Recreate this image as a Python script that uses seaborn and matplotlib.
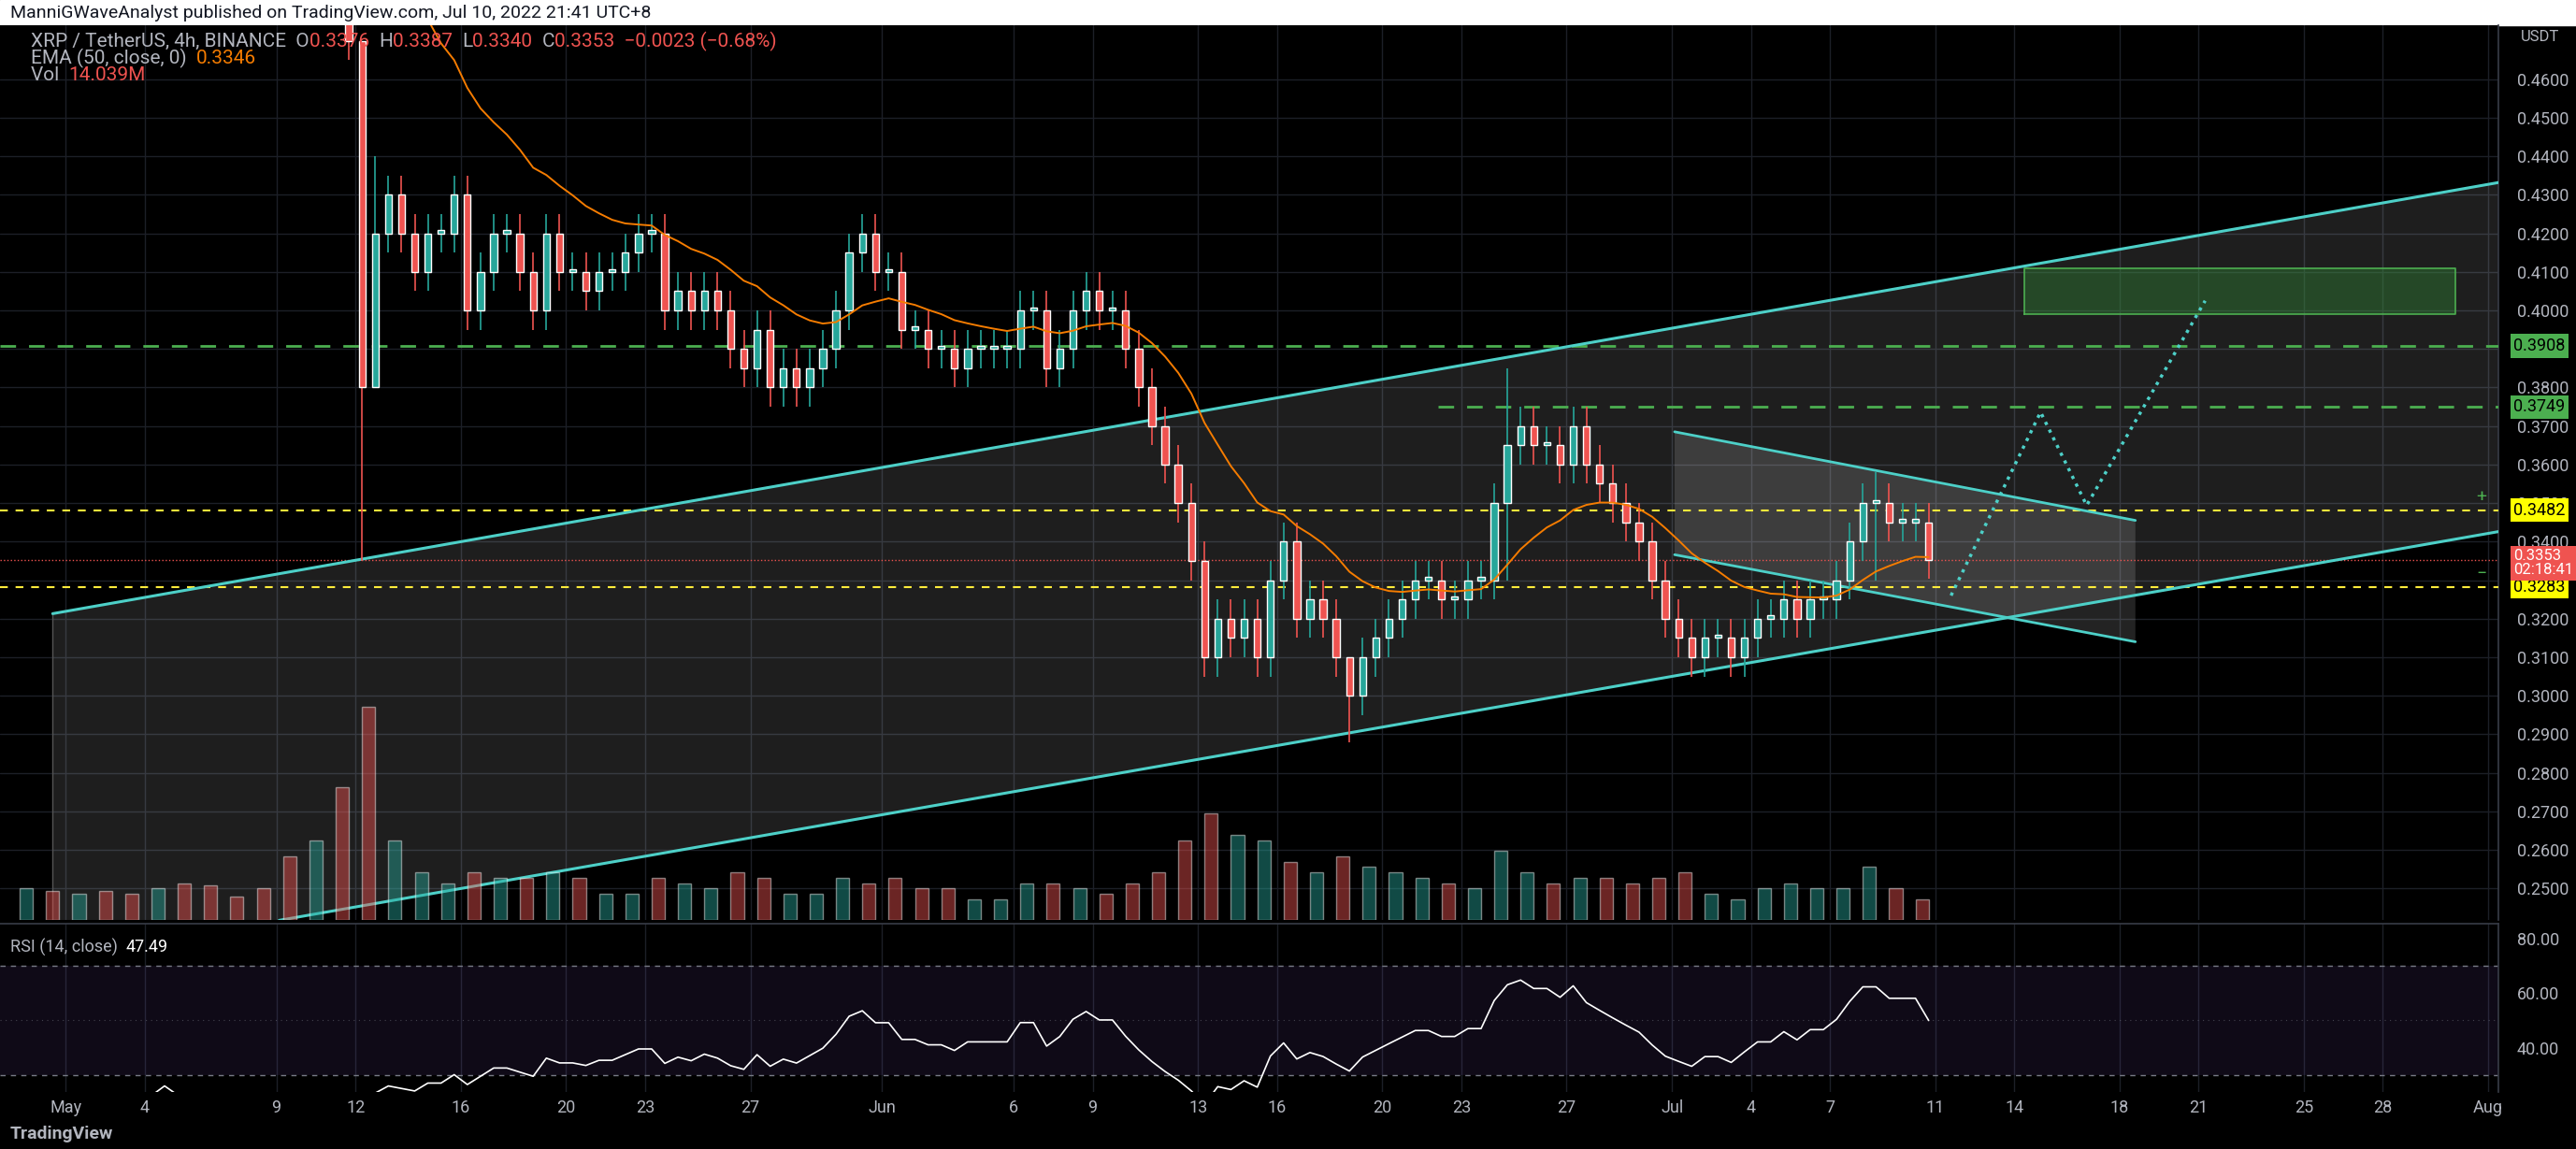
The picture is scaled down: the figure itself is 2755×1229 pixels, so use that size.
import numpy as np
import pandas as pd
import matplotlib
matplotlib.use("Agg")
import matplotlib.pyplot as plt
import seaborn as sns

# 12h closes from Apr 29 to Jul 10
closes = [
    .62, .60, .59, .58,
    .60, .61, .61, .60, .60, .59, .62, .63, .60, .58, .58, .57, .57, .56, .55, .54,
    .52, .50, .52, .50, .48, .47, .38, .42, .43, .42, .41, .42, .42, .43, .40, .41,
    .42, .42, .41, .40, .42, .41, .41, .405, .41, .41, .415, .42, .42, .40, .405, .40,
    .405, .40, .39, .385, .395, .38, .385, .38, .385, .39, .40, .415, .42, .41,
    .41, .395, .395, .39, .39, .385, .39, .39, .39, .39, .40, .40, .385, .39, .40, .405,
    .40, .40, .39, .38, .37, .36, .35, .335, .31, .32, .315, .32, .31, .33, .34, .32,
    .325, .32, .31, .30, .31, .315, .32, .325, .33, .33, .325, .325, .33, .33, .35, .365,
    .37, .365, .365, .36, .37, .36, .355, .35, .345, .34, .33, .32,
    .315, .31, .315, .315, .31, .315, .32, .32, .325, .32, .325, .325, .33, .34,
    .35, .35, .345, .345, .345, .3353,
]
# extreme wicks: (candle index, high, low)
wick_idx = [26, 27, 101, 113, 141]
wick_hi = [.47, .44, .31, .385, .358]
wick_lo = [.335, .40, .288, .33, .33]

# daily volume (M), Apr 29 .. Jul 10
volume = [60, 55, 50, 55, 50, 60, 70, 65, 45, 60, 120, 150, 250, 400, 150, 90, 70, 90, 80, 80,
          90, 80, 50, 50, 80, 70, 60, 90, 80, 50, 50, 80, 70, 80, 60, 60, 40, 40, 70, 70,
          60, 50, 70, 90, 150, 200, 160, 150, 110, 90, 120, 100, 90, 80, 70, 60, 130, 90, 70, 80,
          80, 70, 80, 90, 50, 40, 60, 70, 60, 60, 100, 60, 40]

tick_days = [0, 3, 8, 11, 15, 19, 22, 26, 31, 36, 39, 43, 46, 50, 53, 57, 61, 64, 67, 71, 74, 78, 81, 85, 88, 92]
tick_labels = ["May", "4", "9", "12", "16", "20", "23", "27", "Jun", "6", "9", "13", "16", "20", "23", "27",
               "Jul", "4", "7", "11", "14", "18", "21", "25", "28", "Aug"]

UP, DN = "#26a69a", "#ef5350"
GRID = "#1c1f27"
TXT = "#b2b5be"
CY = "#4dd0c8"

sns.set_theme(style="dark", rc={"axes.facecolor": "black", "figure.facecolor": "black",
                                "font.family": "Roboto"})
W, H = 2755, 1229
fig = plt.figure(figsize=(W / 100, H / 100), dpi=100)
fig.patch.set_facecolor("black")
ax = fig.add_axes([0, 0.199, 0.970, 0.779])
rax = fig.add_axes([0, 0.050, 0.970, 0.146], sharex=ax)
vax = ax.twinx()

n = len(closes)
c = np.array(closes)
o = np.r_[c[0], c[:-1]]
hi = np.maximum(o, c) + 0.005
lo = np.minimum(o, c) - 0.005
for i, h_, l_ in zip(wick_idx, wick_hi, wick_lo):
    hi[i], lo[i] = h_, l_
x = -2 + np.arange(n) * 0.5 + 0.25
df = pd.DataFrame({"x": x, "o": o, "c": c, "hi": hi, "lo": lo})
df["col"] = np.where(df.c >= df.o, UP, DN)

# gridlines
for t in tick_days:
    ax.axvline(t, color=GRID, lw=1, zorder=0)
    rax.axvline(t, color=GRID, lw=1, zorder=0)
for p in np.arange(0.25, 0.465, 0.01):
    ax.axhline(p, color=GRID, lw=1, zorder=0)

# volume
vdf = pd.DataFrame({"d": np.arange(len(volume)) - 2 + 0.5, "v": volume})
vcol = [UP if i == 0 or c[2 * i + 1] >= c[2 * i - 1] else DN for i in range(len(volume))]
vax.bar(vdf.d, vdf.v, width=0.5, color=vcol, alpha=0.45, zorder=1)
vax.set_ylim(0, max(volume) * 4.2)
vax.axis("off")

# channel
cx = [-0.5, 92.4, 92.4, 8.1, -0.5]
cy = [0.3213, 0.4332, 0.3426, 0.2417, 0.2417]
ax.fill(cx, cy, color="white", alpha=0.12, lw=0, zorder=1)
ax.plot([-0.5, 92.4], [0.3213, 0.4332], color=CY, lw=2.2, zorder=4)
ax.plot([8.1, 92.4], [0.2417, 0.3426], color=CY, lw=2.2, zorder=4)
ax.plot([-0.5, -0.5], [0.2417, 0.3213], color="#555", lw=1, zorder=1)

# wedge
wx = [61.1, 78.6, 78.6, 61.1]
wy = [0.3685, 0.3455, 0.3140, 0.3366]
ax.fill(wx, wy, color="white", alpha=0.14, lw=0, zorder=1)
ax.plot([61.1, 78.6], [0.3685, 0.3455], color=CY, lw=2, zorder=4)
ax.plot([61.1, 78.6], [0.3366, 0.3140], color=CY, lw=2, zorder=4)

# target box
ax.fill([74.4, 90.75, 90.75, 74.4], [0.3990, 0.3990, 0.4110, 0.4110], color="#2e7d32", alpha=0.45, lw=0, zorder=2)
ax.plot([74.4, 90.75, 90.75, 74.4, 74.4], [0.3990, 0.3990, 0.4110, 0.4110, 0.3990], color="#4caf50", lw=1.2, zorder=2)

# levels
ax.axhline(0.3908, color="#4caf50", ls=(0, (6, 5)), lw=2, zorder=3)
ax.plot([52.1, 92.4], [0.3749, 0.3749], color="#4caf50", ls=(0, (6, 5)), lw=2, zorder=3)
ax.axhline(0.3482, color="#ffeb3b", ls=(0, (4, 4)), lw=1.5, zorder=3)
ax.axhline(0.3283, color="#ffeb3b", ls=(0, (4, 4)), lw=1.5, zorder=3)
ax.axhline(0.3353, color=DN, ls=":", lw=1, zorder=3)

# projection path
ax.plot([71.6, 75, 76.75, 81.25], [0.3260, 0.3736, 0.3494, 0.4025], color=CY, ls=":", lw=2.5, zorder=5)

# candles
ax.vlines(df.x, df.lo, df.hi, colors=df.col, lw=1.2, zorder=6)
ax.bar(df.x, (df.c - df.o).abs().clip(lower=0.0008), bottom=np.minimum(df.o, df.c), width=0.26,
       color=df.col, zorder=7)

# EMA 50 (4h) ~ span 17 on 12h bars
ema = pd.Series(closes).ewm(span=17, adjust=False).mean()
ax.plot(x, ema, color="#f57c00", lw=1.4, zorder=8)

ax.set_xlim(-2.5, 92.4)
ax.set_ylim(0.2417, 0.474)
ax.yaxis.tick_right()
ax.set_yticks(np.arange(0.25, 0.465, 0.01))
ax.set_yticklabels([f"{v:.4f}" for v in np.arange(0.25, 0.465, 0.01)], color=TXT, fontsize=13)
ax.tick_params(axis="y", length=0, pad=14)
ax.tick_params(axis="x", bottom=False, labelbottom=False)
for s in ax.spines.values():
    s.set_visible(False)
ax.spines["right"].set_visible(True)
ax.spines["right"].set_color("#363a45")

# right axis price tags
for p, fc, tc, lab in [(0.3908, "#4caf50", "black", "0.3908"), (0.3749, "#4caf50", "black", "0.3749"),
                       (0.3482, "#ffff00", "black", "0.3482"), (0.3283, "#ffff00", "black", "0.3283")]:
    ax.text(1.006, p, lab, transform=ax.get_yaxis_transform(), va="center", ha="left", fontsize=13,
            color=tc, bbox=dict(boxstyle="square,pad=0.2", fc=fc, ec="none"))
ax.text(1.006, 0.3353 - 0.0009, "0.3353\n02:18:41", transform=ax.get_yaxis_transform(), va="center",
        ha="left", fontsize=12, color="white", linespacing=1.0,
        bbox=dict(boxstyle="square,pad=0.2", fc=DN, ec="none"))
ax.text(0.993, 0.3515, "+", transform=ax.get_yaxis_transform(), color="#4caf50", fontsize=14, ha="center", va="center")
ax.text(0.993, 0.3315, "−", transform=ax.get_yaxis_transform(), color="#4caf50", fontsize=14, ha="center", va="center")

# RSI
delta = pd.Series(closes).diff()
gain = delta.clip(lower=0).ewm(alpha=1 / 14, adjust=False).mean()
loss = (-delta.clip(upper=0)).ewm(alpha=1 / 14, adjust=False).mean()
rsi = 100 - 100 / (1 + gain / loss)
rax.axhspan(30, 70, color="#7e57c2", alpha=0.12, lw=0)
rax.axhline(70, color="#787b86", ls=(0, (4, 4)), lw=1)
rax.axhline(30, color="#787b86", ls=(0, (4, 4)), lw=1)
rax.axhline(50, color="#787b86", ls=(0, (1, 4)), lw=0.8, alpha=0.5)
sns.lineplot(x=x, y=rsi, ax=rax, color="white", lw=1.2)
rax.set_ylim(23.9, 85.4)
rax.yaxis.tick_right()
rax.set_yticks([40, 60, 80])
rax.set_yticklabels(["40.00", "60.00", "80.00"], color=TXT, fontsize=13)
rax.tick_params(axis="y", length=0, pad=14)
rax.set_xticks(tick_days)
rax.set_xticklabels(tick_labels, color=TXT, fontsize=13)
rax.tick_params(axis="x", length=0, pad=6)
for s in rax.spines.values():
    s.set_visible(False)
rax.spines["right"].set_visible(True)
rax.spines["right"].set_color("#363a45")
rax.spines["top"].set_visible(True)
rax.spines["top"].set_color("#363a45")

renderer = fig.canvas.get_renderer()


def seq(x0, y, parts, size=14):
    # lay out coloured text pieces one after another
    for txt, col in parts:
        t = fig.text(x0, y, txt, color=col, fontsize=size, va="center")
        x0 += t.get_window_extent(renderer).width / W


ry = 0.050 + 0.146 * 0.86
seq(0.004, ry, [("RSI (14, close)  ", TXT), ("47.49", "white")], 13)

# header
fig.patches.append(plt.Rectangle((0, 1 - 27 / H), 1, 27 / H, transform=fig.transFigure, color="white", zorder=-1))
fig.text(0.004, 1 - 14 / H, "ManniGWaveAnalyst published on TradingView.com, Jul 10, 2022 21:41 UTC+8",
         color="#131722", fontsize=14, va="center")
seq(0.012, 1 - 44 / H, [("XRP / TetherUS, 4h, BINANCE  O", TXT), ("0.3376  ", DN), ("H", TXT), ("0.3387  ", DN),
                        ("L", TXT), ("0.3340  ", DN), ("C", TXT), ("0.3353  −0.0023 (−0.68%)", DN)], 15)
seq(0.012, 1 - 62 / H, [("EMA (50, close, 0)  ", TXT), ("0.3346", "#f57c00")], 15)
seq(0.012, 1 - 80 / H, [("Vol  ", TXT), ("14.039M", DN)], 15)
fig.text(0.9935, 1 - 40 / H, "USDT", color=TXT, fontsize=12, va="center", ha="right")
fig.text(0.004, 1 - 1213 / H, "TradingView", color=TXT, fontsize=14, va="center", weight="bold")

fig.savefig("out.png", dpi=100, facecolor="black")
